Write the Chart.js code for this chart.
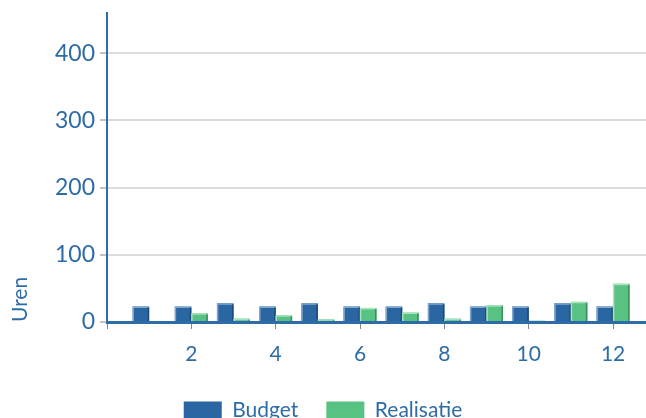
<!DOCTYPE html>
<html>
<head>
<meta charset="utf-8">
<script src="https://cdn.jsdelivr.net/npm/chart.js@4/dist/chart.umd.min.js"></script>
<style>
  html, body { margin: 0; padding: 0; background: #fff; overflow: hidden; }
  #wrap { position: relative; width: 646px; height: 431px; }
</style>
</head>
<body>
<div id="wrap"><canvas id="grafico"></canvas></div>
<script>
const maanden = [1, 2, 3, 4, 5, 6, 7, 8, 9, 10, 11, 12];
const budget = [23, 23, 28, 23, 28, 23, 23, 28, 23, 23, 28, 23];
const realisatie = [0, 13, 5, 10, 4, 21, 14, 5, 25, 2, 30, 57];
const xTicks = [0, 2, 4, 6, 8, 10, 12];
const yTicks = [0, 100, 200, 300, 400];

const blauw = "#2e6ca8";
const font = "Lato";
// licht / donker randje per reeks voor het bevel-effect
const randen = [["#82a7cf", "#1c4a78"], ["#a9e2bf", "#3a8f5c"]];

function punten(waarden) {
  return maanden.map((m, i) => ({x: m, y: waarden[i]}));
}

const bevel = {
  id: "bevel",
  afterDatasetsDraw(chart) {
    const ctx = chart.ctx;
    chart.data.datasets.forEach((ds, d) => {
      chart.getDatasetMeta(d).data.forEach(bar => {
        const {x, y, width, base} = bar.getProps(["x", "y", "width", "base"], true);
        if (base - y < 1) return;
        const l = x - width / 2, r = x + width / 2;
        ctx.save();
        ctx.lineWidth = 1.5;
        ctx.strokeStyle = randen[d][0];
        ctx.beginPath();
        ctx.moveTo(l + 0.5, base);
        ctx.lineTo(l + 0.5, y + 0.75);
        ctx.lineTo(r - 0.5, y + 0.75);
        ctx.stroke();
        ctx.strokeStyle = randen[d][1];
        ctx.beginPath();
        ctx.moveTo(r - 0.75, y + 1);
        ctx.lineTo(r - 0.75, base);
        ctx.stroke();
        ctx.restore();
      });
    });
  }
};

new Chart("grafico", {
  type: "bar",
  data: {
    datasets: [{
      label: "Budget",
      data: punten(budget),
      backgroundColor: "#2a66a1",
      borderWidth: 0
    }, {
      label: "Realisatie",
      data: punten(realisatie),
      backgroundColor: "#58c282",
      borderWidth: 0
    }]
  },
  plugins: [bevel],
  options: {
    responsive: true,
    maintainAspectRatio: false,
    animation: false,
    layout: {padding: {top: 13, right: 0, left: 0, bottom: 0}},
    datasets: {bar: {barPercentage: 1, categoryPercentage: 0.78}},
    plugins: {
      tooltip: {enabled: false},
      legend: {
        position: "bottom",
        labels: {
          boxWidth: 38,
          boxHeight: 18,
          padding: 28,
          color: blauw,
          font: {family: font, size: 21}
        }
      }
    },
    scales: {
      x: {
        type: "linear",
        min: 0,
        max: 12.78,
        offset: false,
        afterBuildTicks: s => { s.ticks = xTicks.map(v => ({value: v})); },
        afterFit: s => { s.height = 50; s.paddingLeft = 0; s.paddingRight = 0; },
        border: {color: blauw, width: 3, z: 1},
        grid: {offset: false, drawOnChartArea: false, drawTicks: true, tickLength: 7, tickColor: "#888", tickWidth: 1},
        ticks: {
          color: blauw,
          padding: 13,
          maxRotation: 0,
          font: {family: font, size: 21},
          callback: v => v === 0 ? "" : v
        }
      },
      y: {
        min: 0,
        max: 460,
        afterBuildTicks: s => { s.ticks = yTicks.map(v => ({value: v})); },
        afterFit: s => { s.width = 107; s.paddingTop = 0; s.paddingBottom = 0; },
        border: {color: blauw, width: 2},
        grid: {color: "#dcdcdc", lineWidth: 2, tickLength: 7, tickColor: "#888", tickWidth: 1},
        ticks: {
          color: blauw,
          padding: 5,
          font: {family: font, size: 23}
        },
        title: {
          display: true,
          text: "Uren",
          align: "start",
          color: blauw,
          padding: {top: 8, bottom: 0},
          font: {family: font, size: 21}
        }
      }
    }
  }
});
</script>
</body>
</html>
